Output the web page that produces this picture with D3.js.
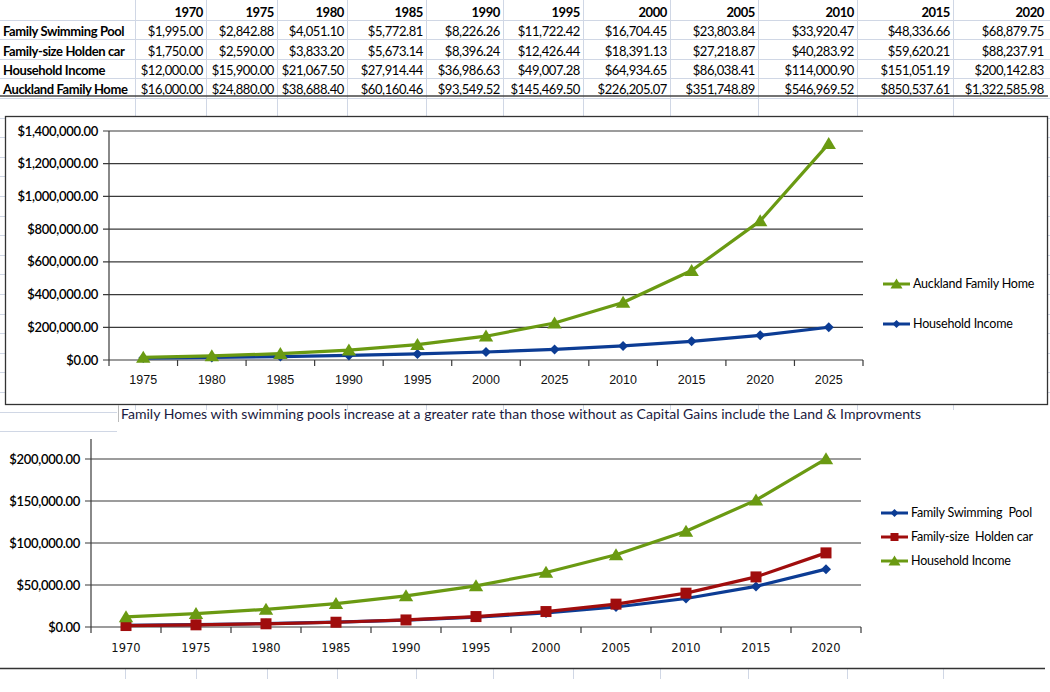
<!DOCTYPE html>
<html><head><meta charset="utf-8">
<script src="https://cdn.jsdelivr.net/npm/d3@7"></script>
<style>
html,body{margin:0;padding:0;background:#fff;}
svg{display:block;}
</style></head>
<body>
<script>
// ---------- DATA ----------
const years = ["1970","1975","1980","1985","1990","1995","2000","2005","2010","2015","2020"];
const poolValues = [1995.00, 2842.88, 4051.10, 5772.81, 8226.26, 11722.42, 16704.45, 23803.84, 33920.47, 48336.66, 68879.75];
const carValues = [1750.00, 2590.00, 3833.20, 5673.14, 8396.24, 12426.44, 18391.13, 27218.87, 40283.92, 59620.21, 88237.91];
const incomeValues = [12000.00, 15900.00, 21067.50, 27914.44, 36986.63, 49007.28, 64934.65, 86038.41, 114000.90, 151051.19, 200142.83];
const homeValues = [16000.00, 24880.00, 38688.40, 60160.46, 93549.52, 145469.50, 226205.07, 351748.89, 546969.52, 850537.61, 1322585.98];
const rowLabels = ["Family Swimming Pool","Family-size Holden car","Household Income","Auckland Family Home"];
const topCategoryLabels = ["1975","1980","1985","1990","1995","2000","2025","2010","2015","2020","2025"];
const topYTicks = [0,200000,400000,600000,800000,1000000,1200000,1400000];
const bottomYTicks = [0,50000,100000,150000,200000];
const topLegend = ["Auckland Family Home","Household Income"];
const bottomLegend = ["Family Swimming  Pool","Family-size  Holden car","Household Income"];
const caption = "Family Homes with swimming pools increase at a greater rate than those without as Capital Gains include the Land & Improvments";

// ---------- STYLE ----------
const W = 1050, H = 692;
const GREEN = "#6a9a12", BLUE = "#0c3c94", RED = "#a00d0d";
const GRID = "#3a3a3a", CELL = "#d0d7e5";
const calibri = "Lato, 'Open Sans', sans-serif";
const fmt = d3.format("$,.2f");

const svg = d3.select("body").append("svg").attr("width", W).attr("height", H);

// spreadsheet cell gridlines
const colEdges = [135,206,277,347,426,503,583,670,758,857,953];
const bg = svg.append("g");
colEdges.forEach(x => bg.append("line").attr("x1",x+0.5).attr("x2",x+0.5).attr("y1",0).attr("y2",668).attr("stroke",CELL));
d3.range(19.5, 668, 19.6).forEach(y => bg.append("line").attr("x1",0).attr("x2",W).attr("y1",Math.round(y)+0.5).attr("y2",Math.round(y)+0.5).attr("stroke",CELL));
colEdges.forEach(x => bg.append("line").attr("x1",x-9.5).attr("x2",x-9.5).attr("y1",669).attr("y2",679).attr("stroke",CELL));

// ---------- TABLE ----------
const tbl = svg.append("g").style("font-family", calibri).style("font-size","13px").style("letter-spacing","-0.4px").attr("fill","#000");
const rowY = [12,31,51,70,89];
const colRight = colEdges.slice(1).concat([1047]).map(x => x - 3);
years.forEach((yr,i) => tbl.append("text").attr("x", colRight[i]).attr("y", rowY[0]).attr("dy","0.35em")
  .attr("text-anchor","end").attr("font-weight","bold").text(yr));
const tableRows = [poolValues, carValues, incomeValues, homeValues];
tableRows.forEach((vals, r) => {
  tbl.append("text").attr("x", 3).attr("y", rowY[r+1]).attr("dy","0.35em").attr("font-weight","bold").text(rowLabels[r]);
  vals.forEach((v,i) => tbl.append("text").attr("x", colRight[i]).attr("y", rowY[r+1]).attr("dy","0.35em")
    .attr("text-anchor","end").text(fmt(v)));
});
svg.append("line").attr("x1",0).attr("x2",1048).attr("y1",96).attr("y2",96).attr("stroke","#444").attr("stroke-width",1.5);

// ---------- helpers ----------
function marker(g, type, x, y, color, s) {
  if (type === "tri") {
    g.append("path").attr("d", `M${x},${y-s*0.55}L${x+s*0.6},${y+s*0.45}L${x-s*0.6},${y+s*0.45}Z`).attr("fill", color);
  } else if (type === "dia") {
    g.append("path").attr("d", `M${x},${y-s/2}L${x+s/2},${y}L${x},${y+s/2}L${x-s/2},${y}Z`).attr("fill", color);
  } else {
    g.append("rect").attr("x", x-s/2).attr("y", y-s/2).attr("width", s).attr("height", s).attr("fill", color);
  }
}
function series(g, x, y, vals, color, type, s) {
  const line = d3.line().x((d,i) => x(i) + x.bandwidth()/2).y(d => y(d));
  g.append("path").datum(vals).attr("d", line).attr("fill","none").attr("stroke", color)
    .attr("stroke-width", 3.2).attr("stroke-linejoin","round");
  vals.forEach((v,i) => marker(g, type, x(i)+x.bandwidth()/2, y(v), color, s));
}

// ---------- TOP CHART ----------
svg.append("rect").attr("x",5.5).attr("y",116.5).attr("width",1042).attr("height",288)
  .attr("fill","#fff").attr("stroke","#333").attr("stroke-width",1.3);
const topG = svg.append("g");
const xT = d3.scaleBand().domain(d3.range(homeValues.length)).range([109, 863]);
const yT = d3.scaleLinear().domain([0, 1400000]).range([360, 131]);
topYTicks.forEach(t => {
  topG.append("line").attr("x1", 103).attr("x2", 863).attr("y1", yT(t)).attr("y2", yT(t)).attr("stroke", GRID).attr("stroke-width",1.2);
  topG.append("text").attr("x", 98).attr("y", yT(t)).attr("dy","0.35em").attr("text-anchor","end")
    .style("font-family", calibri).style("font-size","13px").style("letter-spacing","-0.3px").attr("font-weight","600").text(fmt(t));
});
topG.append("line").attr("x1",109).attr("x2",109).attr("y1",yT(1400000)).attr("y2",yT(0)).attr("stroke",GRID).attr("stroke-width",1.2);
d3.range(homeValues.length+1).forEach(i => {
  const x = i < homeValues.length ? xT(i) : xT.range()[1];
  topG.append("line").attr("x1",x).attr("x2",x).attr("y1",yT(0)).attr("y2",yT(0)+6).attr("stroke",GRID).attr("stroke-width",1.2);
});
topCategoryLabels.forEach((l,i) => topG.append("text").attr("x", xT(i)+xT.bandwidth()/2).attr("y", 380).attr("dy","0.35em")
  .attr("text-anchor","middle").style("font-family","'Liberation Sans', Arial, sans-serif").style("font-size","12.5px").attr("fill","#111").text(l));
series(topG, xT, yT, incomeValues, BLUE, "dia", 10);
series(topG, xT, yT, homeValues, GREEN, "tri", 12);
// legend
[[topLegend[0], GREEN, "tri", 284], [topLegend[1], BLUE, "dia", 324]].forEach(([t,c,m,y]) => {
  topG.append("line").attr("x1",883).attr("x2",910).attr("y1",y).attr("y2",y).attr("stroke",c).attr("stroke-width",3);
  marker(topG, m, 896.5, y, c, m === "tri" ? 10 : 8);
  topG.append("text").attr("x",913).attr("y",y).attr("dy","0.35em").style("font-family",calibri).style("font-size","12.5px")
    .style("letter-spacing","-0.2px").text(t);
});

// ---------- CAPTION ----------
svg.append("rect").attr("x",117).attr("y",410).attr("width",W-117).attr("height",22).attr("fill","#fff");
svg.append("line").attr("x1",118.5).attr("x2",118.5).attr("y1",405).attr("y2",422).attr("stroke","#bbb");
svg.append("text").attr("x",121).attr("y",414).attr("dy","0.35em").attr("fill","#1a1a40")
  .style("font-family",calibri).style("font-size","14px").attr("textLength",800).attr("lengthAdjust","spacingAndGlyphs").text(caption);

// ---------- BOTTOM CHART ----------
svg.append("rect").attr("x",0).attr("y",432).attr("width",W).attr("height",236).attr("fill","#fff");
svg.append("line").attr("x1",0).attr("x2",1045).attr("y1",668.5).attr("y2",668.5).attr("stroke","#333").attr("stroke-width",1.3);
const bot = svg.append("g");
const xB = d3.scaleBand().domain(d3.range(incomeValues.length)).range([91, 861]);
const yB = d3.scaleLinear().domain([0, 200000]).range([627, 459]);
bottomYTicks.forEach(t => {
  bot.append("line").attr("x1", 85).attr("x2", 861).attr("y1", yB(t)).attr("y2", yB(t)).attr("stroke", GRID).attr("stroke-width",1.2);
  bot.append("text").attr("x", 80).attr("y", yB(t)).attr("dy","0.35em").attr("text-anchor","end")
    .style("font-family", calibri).style("font-size","13px").style("letter-spacing","-0.3px").attr("font-weight","600").text(fmt(t));
});
bot.append("line").attr("x1",91).attr("x2",91).attr("y1",yB(0)-188).attr("y2",yB(0)).attr("stroke",GRID).attr("stroke-width",1.2);
d3.range(incomeValues.length+1).forEach(i => {
  const x = i < incomeValues.length ? xB(i) : xB.range()[1];
  bot.append("line").attr("x1",x).attr("x2",x).attr("y1",yB(0)).attr("y2",yB(0)+6).attr("stroke",GRID).attr("stroke-width",1.2);
});
years.forEach((l,i) => bot.append("text").attr("x", xB(i)+xB.bandwidth()/2).attr("y", 648).attr("dy","0.35em")
  .attr("text-anchor","middle").style("font-family","'DejaVu Sans', sans-serif").style("font-size","11.5px").attr("fill","#111").text(l));
series(bot, xB, yB, poolValues, BLUE, "dia", 10);
series(bot, xB, yB, carValues, RED, "sq", 11);
series(bot, xB, yB, incomeValues, GREEN, "tri", 12);
[[bottomLegend[0], BLUE, "dia", 513], [bottomLegend[1], RED, "sq", 537], [bottomLegend[2], GREEN, "tri", 561]].forEach(([t,c,m,y]) => {
  bot.append("line").attr("x1",881).attr("x2",908).attr("y1",y).attr("y2",y).attr("stroke",c).attr("stroke-width",3);
  marker(bot, m, 894.5, y, c, m === "tri" ? 10 : 8);
  bot.append("text").attr("x",911).attr("y",y).attr("dy","0.35em").style("font-family",calibri).style("font-size","12.5px")
    .style("letter-spacing","-0.2px").style("white-space","pre").attr("xml:space","preserve").text(t);
});
</script>
</body></html>
